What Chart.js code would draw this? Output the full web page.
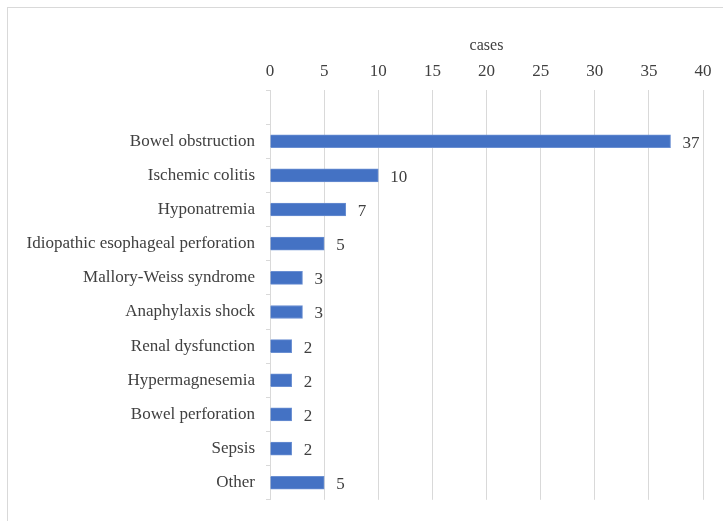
<!DOCTYPE html>
<html>
<head>
<meta charset="utf-8">
<script src="https://cdn.jsdelivr.net/npm/chart.js@4"></script>
<style>
  html, body { margin: 0; padding: 0; background: #fff; overflow: hidden; }
  #wrap { position: relative; width: 723px; height: 521px; }
  #frame { position: absolute; left: 7px; top: 7px; width: 740px; height: 540px; border: 1px solid #d9d9d9; }
  #chart { position: absolute; left: 0; top: 0; }
</style>
</head>
<body>
<div id="wrap">
  <div id="frame"></div>
  <canvas id="chart" width="723" height="521"></canvas>
</div>
<script>
// first slot is empty in the original chart
const categories = [
  "",
  "Bowel obstruction",
  "Ischemic colitis",
  "Hyponatremia",
  "Idiopathic esophageal perforation",
  "Mallory-Weiss syndrome",
  "Anaphylaxis shock",
  "Renal dysfunction",
  "Hypermagnesemia",
  "Bowel perforation",
  "Sepsis",
  "Other",
];
const cases = [null, 37, 10, 7, 5, 3, 3, 2, 2, 2, 2, 5];
const xTicks = [0, 5, 10, 15, 20, 25, 30, 35, 40];

const serif = "'Liberation Serif', 'Times New Roman', serif";

// draws the value just after the end of each bar
const valueLabels = {
  id: "valueLabels",
  afterDatasetsDraw(chart) {
    const ctx = chart.ctx;
    const meta = chart.getDatasetMeta(0);
    ctx.save();
    ctx.font = "17px " + serif;
    ctx.fillStyle = "#404040";
    ctx.textAlign = "left";
    ctx.textBaseline = "middle";
    meta.data.forEach((bar, i) => {
      const v = cases[i];
      if (v === null) return;
      ctx.fillText(String(v), bar.x + 12, bar.y + 2);
    });
    ctx.restore();
  },
};

const ctx = document.getElementById("chart");
new Chart(ctx, {
  type: "bar",
  data: {
    labels: categories,
    datasets: [
      {
        label: "cases",
        data: cases,
        backgroundColor: "#4472c4",
        borderColor: "#6a8fd2",
        borderWidth: 1,
        barThickness: 13,
      },
    ],
  },
  options: {
    indexAxis: "y",
    responsive: false,
    animation: false,
    layout: { padding: { left: 0, right: 20, top: 0, bottom: 20 } },
    plugins: {
      legend: { display: false },
      tooltip: { enabled: false },
    },
    scales: {
      x: {
        position: "top",
        min: 0,
        max: 40,
        afterBuildTicks(scale) {
          scale.ticks = xTicks.map((v) => ({ value: v }));
        },
        afterFit(scale) {
          scale.height = 90;
        },
        grid: { color: "#d9d9d9", drawTicks: false, lineWidth: 1 },
        border: { display: false },
        ticks: {
          padding: 8,
          color: "#404040",
          font: { family: serif, size: 17 },
        },
        title: {
          display: true,
          text: "cases",
          color: "#404040",
          padding: { top: 36, bottom: 0 },
          font: { family: serif, size: 16 },
        },
      },
      y: {
        afterFit(scale) {
          scale.width = 270;
        },
        grid: {
          offset: true,
          drawOnChartArea: false,
          tickLength: 4,
          color: "#d9d9d9",
        },
        border: { display: true, color: "#d9d9d9" },
        ticks: {
          padding: 11,
          color: "#404040",
          font: { family: serif, size: 17 },
        },
      },
    },
  },
  plugins: [valueLabels],
});
</script>
</body>
</html>
